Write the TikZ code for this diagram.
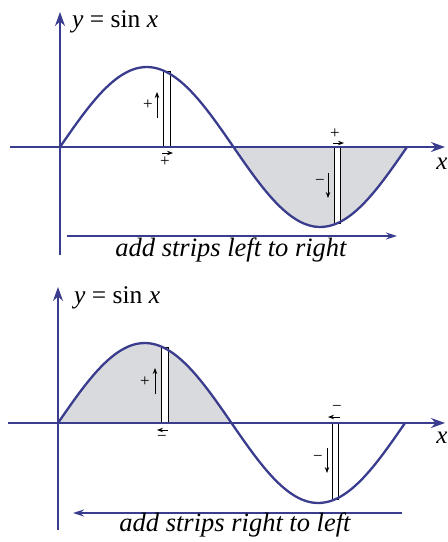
\documentclass[tikz,border=0pt]{standalone}
\usepackage{fontspec}
\setmainfont{Liberation Serif}
\usetikzlibrary{arrows.meta}
\definecolor{axisblue}{RGB}{58,60,142}
\definecolor{shadegray}{RGB}{217,218,221}
\tikzset{
  axis/.style={axisblue, line width=1.8pt, -{Stealth[length=14pt,width=10pt]}},
  curve/.style={axisblue, line width=2.3pt},
  sweep/.style={axisblue, line width=1.4pt, -{Stealth[length=11pt,width=7pt]}},
  stripbox/.style={draw=black, line width=0.9pt, fill=white},
  tick/.style={black, line width=0.9pt, -{Stealth[length=6pt,width=4.5pt]}},
  sign/.style={inner sep=0pt, font=\fontsize{17}{17}\selectfont},
  caption/.style={inner sep=0pt, font=\fontsize{26.5}{30}\selectfont\itshape},
  title/.style={inner sep=0pt, anchor=west, font=\fontsize{25.5}{30}\selectfont},
}
\begin{document}
\begin{tikzpicture}[x=1pt,y=1pt]
  \useasboundingbox (0,0) rectangle (448,-542);
  % top: strips added left to right
  \begin{scope}[shift={(60,-147)}]
    \fill[shadegray] plot[domain=173.5:347,samples=40,smooth] (\x,{80*sin(\x/347*360)}) -- cycle;
    \node[stripbox, minimum width=7pt, minimum height=75pt, anchor=south west, inner sep=0pt] (sa) at (103,0) {};
    \node[stripbox, minimum width=6pt, minimum height=76pt, anchor=north west, inner sep=0pt] (sb) at (274,0) {};
    \coordinate (ya) at (0,-108);
    \coordinate (yb) at (0,135);
    \coordinate (xa) at (-50,0);
    \coordinate (xb) at (385,0);
    \draw[axis] (ya) -- (yb);
    \draw[axis] (xa) -- (xb);
    \draw[curve] plot[domain=0:347,samples=80,smooth] (\x,{80*sin(\x/347*360)});
    \node[title] (fa) at (12,125) {\textit{y} = sin \textit{x}};
    \node[font=\fontsize{25}{30}\selectfont\itshape, inner sep=0pt] (la) at (382,-17) {x};
    % signs at the strips
    \node[sign] (pa) at (88,42) {+};
    \draw[tick] ([xshift=9pt,yshift=-13pt]pa.center) -- ++(0,26);
    \node[sign] (qa) at (105,-15) {+};
    \draw[tick] ([xshift=-3pt,yshift=9pt]qa.center) -- ++(11,0);
    \node[sign] (ra) at (275,13) {+};
    \draw[tick] ([xshift=-2pt,yshift=-9pt]ra.center) -- ++(11,0);
    \node[sign] (ma) at (260,-35) {−};
    \draw[tick] ([xshift=8pt,yshift=9pt]ma.center) -- ++(0,-25);
    \coordinate (wa) at (7,-89);
    \coordinate (ea) at (337,-89);
    \draw[sweep] (wa) -- (ea);
    \node[caption] (ca) at (171,-103) {add strips left to right};
  \end{scope}
  % bottom: strips added right to left
  \begin{scope}[shift={(58,-423)}]
    \fill[shadegray] plot[domain=0:173.5,samples=40,smooth] (\x,{80*sin(\x/347*360)}) -- cycle;
    \node[stripbox, minimum width=7pt, minimum height=75pt, anchor=south west, inner sep=0pt] (sc) at (103,0) {};
    \node[stripbox, minimum width=6pt, minimum height=76pt, anchor=north west, inner sep=0pt] (sd) at (274,0) {};
    \coordinate (yc) at (0,-107);
    \coordinate (yd) at (0,136);
    \coordinate (xc) at (-50,0);
    \coordinate (xd) at (387,0);
    \draw[axis] (yc) -- (yd);
    \draw[axis] (xc) -- (xd);
    \draw[curve] plot[domain=0:347,samples=80,smooth] (\x,{80*sin(\x/347*360)});
    \node[title] (fb) at (16,125) {\textit{y} = sin \textit{x}};
    \node[font=\fontsize{25}{30}\selectfont\itshape, inner sep=0pt] (lb) at (384,-15) {x};
    % signs at the strips
    \node[sign] (pb) at (87,41) {+};
    \draw[tick] ([xshift=10pt,yshift=-12pt]pb.center) -- ++(0,26);
    \node[sign] (qb) at (104,-15) {−};
    \draw[tick] ([xshift=6pt,yshift=8pt]qb.center) -- ++(-11,0);
    \node[sign] (rb) at (279,15) {−};
    \draw[tick] ([xshift=3pt,yshift=-9pt]rb.center) -- ++(-12,0);
    \node[sign] (mb) at (260,-35) {−};
    \draw[tick] ([xshift=9pt,yshift=10pt]mb.center) -- ++(0,-25);
    \coordinate (wb) at (15,-90);
    \coordinate (eb) at (344,-90);
    \draw[sweep] (eb) -- (wb);
    \node[caption] (cb) at (177,-102) {add strips right to left};
  \end{scope}
\end{tikzpicture}
\end{document}
